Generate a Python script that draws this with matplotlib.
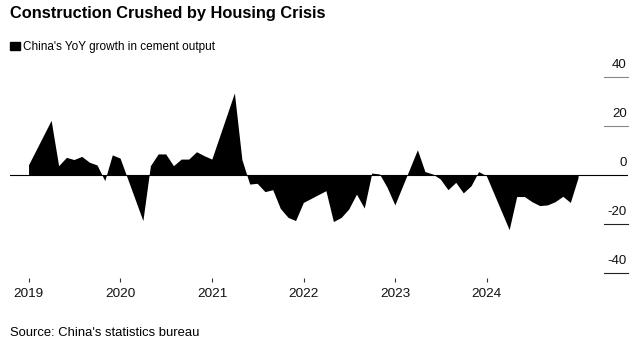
import pandas as pd
import matplotlib
matplotlib.use("Agg")
import matplotlib.pyplot as plt
import matplotlib.dates as mdates
from matplotlib.patches import Rectangle
from matplotlib.transforms import blended_transform_factory

plt.rcParams['font.family'] = ['Liberation Sans', 'DejaVu Sans']

# monthly data, Jan/Feb are reported together and left out
months = ['2018-12',
          '2019-03', '2019-04', '2019-05', '2019-06', '2019-07', '2019-08',
          '2019-09', '2019-10', '2019-11', '2019-12',
          '2020-03', '2020-04', '2020-05', '2020-06', '2020-07', '2020-08',
          '2020-09', '2020-10', '2020-11', '2020-12',
          '2021-03', '2021-04', '2021-05', '2021-06', '2021-07', '2021-08',
          '2021-09', '2021-10', '2021-11', '2021-12',
          '2022-03', '2022-04', '2022-05', '2022-06', '2022-07', '2022-08',
          '2022-09', '2022-10', '2022-11', '2022-12',
          '2023-03', '2023-04', '2023-05', '2023-06', '2023-07', '2023-08',
          '2023-09', '2023-10', '2023-11', '2023-12',
          '2024-03', '2024-04', '2024-05', '2024-06', '2024-07', '2024-08',
          '2024-09', '2024-10', '2024-11', '2024-12']
growth = [4.2,
          22.3, 3.8, 7.2, 6.3, 7.6, 5.2, 4.1, -2.3, 8.2, 6.9,
          -18.6, 3.8, 8.6, 8.6, 3.8, 6.5, 6.5, 9.5, 7.9, 6.5,
          33.5, 6.3, -3.7, -3.4, -6.8, -6.0, -13.6, -17.3, -18.6, -11.2,
          -6.4, -19.0, -17.3, -13.9, -7.8, -13.5, 0.8, 0.4, -5.0, -12.2,
          10.3, 1.4, 0.4, -1.6, -6.0, -3.0, -7.3, -4.4, 1.4, -0.3,
          -22.3, -8.8, -8.8, -10.9, -12.5, -12.2, -10.9, -8.7, -11.2, -1.0]

year_ticks = ['2019', '2020', '2021', '2022', '2023', '2024']
y_ticks = [40, 20, 0, -20, -40]

dates = pd.to_datetime(months) + pd.offsets.MonthEnd(0)

fig = plt.figure(figsize=(6.44, 3.46), dpi=100)
W, H = 644, 346
ax = fig.add_axes([10 / W, 1 - 273 / H, 618 / W, 196 / H])

ax.fill_between(dates, growth, 0, color='black', lw=0)
ax.axhline(0, color='black', lw=0.8)

ax.set_ylim(-40, 40)
ax.set_xlim(pd.Timestamp('2018-10-18'), pd.Timestamp('2025-07-18'))

for s in ax.spines.values():
    s.set_visible(False)
ax.spines['bottom'].set_position(('outward', 3.5))

ax.set_yticks([])
ax.set_xticks(pd.to_datetime([y + '-01-01' for y in year_ticks]))
ax.xaxis.set_major_formatter(mdates.DateFormatter('%Y'))
ax.tick_params(axis='x', length=3, width=0.8, color='#333333', pad=4.5,
               labelsize=9.7, labelcolor='#111111')

# y ticks: short lines on the right with the label sitting above
trans = blended_transform_factory(ax.transAxes, ax.transData)
for v in y_ticks:
    c = '#888888' if v > 0 else '#222222'
    if v != 0:
        ax.plot([(604 - 10) / 618, 1], [v, v], transform=trans, color=c,
                lw=0.8, clip_on=False)
    ax.annotate(str(v), xy=(1, v), xycoords=trans, xytext=(-1, 6.5),
                textcoords='offset points', ha='right', va='baseline',
                fontsize=9.5, color='#111111')

fig.text(10 / W, 1 - 18 / H, 'Construction Crushed by Housing Crisis',
         fontsize=11.8, fontweight='bold', va='baseline')
fig.patches.append(Rectangle((10 / W, 1 - 50 / H), 9.5 / W, 8.5 / H,
                             transform=fig.transFigure, color='black'))
fig.text(23 / W, 1 - 50 / H, "China's YoY growth in cement output",
         fontsize=8.5, va='baseline')
fig.text(10 / W, 1 - 336 / H, "Source: China's statistics bureau",
         fontsize=9.4, va='baseline')

fig.savefig('out.png', dpi=100)
